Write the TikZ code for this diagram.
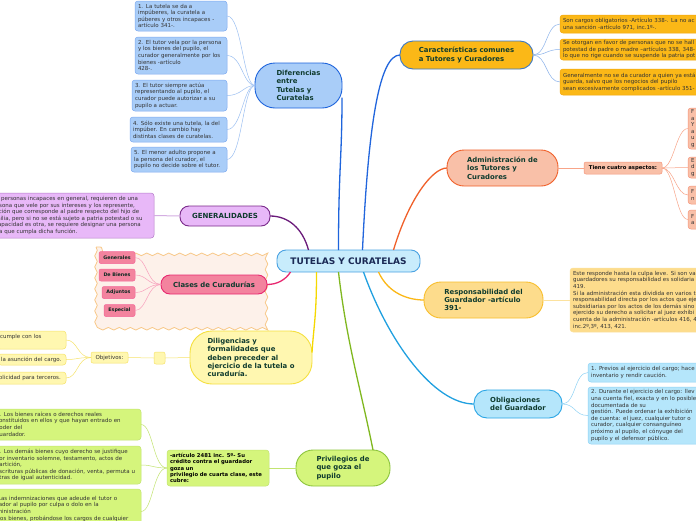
\documentclass[tikz,border=0pt]{standalone}
\usepackage{fontspec}
\setmainfont{DejaVu Sans}
\usetikzlibrary{decorations.pathmorphing}
% colores
\definecolor{centroFill}{HTML}{C8ECFC}
\definecolor{centroLine}{HTML}{4AA2E2}
\definecolor{centroText}{HTML}{1B2A55}
\definecolor{temaText}{HTML}{0F3B2E}
\definecolor{hojaText}{HTML}{333333}
\definecolor{difFill}{HTML}{A9CDF8}
\definecolor{difLine}{HTML}{1E64DC}
\definecolor{difHoja}{HTML}{7DAAF0}
\definecolor{difHilo}{HTML}{9CC0F2}
\definecolor{carFill}{HTML}{FBB817}
\definecolor{carLine}{HTML}{3A78C8}
\definecolor{carHoja}{HTML}{F2A60C}
\definecolor{carHilo}{HTML}{8AB2EA}
\definecolor{carRama}{HTML}{2266DD}
\definecolor{admFill}{HTML}{F9C0A8}
\definecolor{admLine}{HTML}{F0602A}
\definecolor{admHoja}{HTML}{F5947A}
\definecolor{admHilo}{HTML}{F8A488}
\definecolor{resFill}{HTML}{FDDC8C}
\definecolor{resLine}{HTML}{F8BE2C}
\definecolor{resHoja}{HTML}{FCE29E}
\definecolor{resRama}{HTML}{FBB817}
\definecolor{oblFill}{HTML}{B5E6FB}
\definecolor{oblLine}{HTML}{2AA5E5}
\definecolor{oblHoja}{HTML}{8ED2F5}
\definecolor{oblRama}{HTML}{20A0E0}
\definecolor{priFill}{HTML}{D5F57C}
\definecolor{priLine}{HTML}{8CC43C}
\definecolor{priHoja}{HTML}{C2E470}
\definecolor{priRama}{HTML}{80B820}
\definecolor{dilFill}{HTML}{FFF7B0}
\definecolor{dilLine}{HTML}{F5E040}
\definecolor{dilHoja}{HTML}{F6E36A}
\definecolor{dilRama}{HTML}{F5D800}
\definecolor{claFill}{HTML}{F3839E}
\definecolor{claLine}{HTML}{E82870}
\definecolor{claHoja}{HTML}{F46698}
\definecolor{claHilo}{HTML}{F8A0BC}
\definecolor{nubeFill}{HTML}{FDF1EA}
\definecolor{nubeLine}{HTML}{F8C888}
\definecolor{genFill}{HTML}{E8B8F8}
\definecolor{genLine}{HTML}{7A2A8A}
\definecolor{genHoja}{HTML}{B47AC8}
\definecolor{genHilo}{HTML}{D4AEE2}
\definecolor{genRama}{HTML}{6A1A7A}
\begin{document}
\begin{tikzpicture}[x=1pt,y=-1pt,
    every node/.style={inner sep=0pt,outer sep=0pt},
    tema/.style={draw,line width=0.9pt,align=left,text=temaText,
                 font=\fontsize{6.9}{8.3}\selectfont\bfseries},
    hoja/.style={draw,line width=0.5pt,rounded corners=3pt,align=left,
                 text=hojaText,font=\fontsize{5.5}{6.6}\selectfont,
                 anchor=north west,inner xsep=3pt},
    corte/.style={hoja,anchor=north east},
    rama/.style={line width=1.3pt},
    hilo/.style={line width=0.5pt}]
\useasboundingbox (0,0) rectangle (696,520);
\clip (0,0) rectangle (696,520);
\fill[white] (0,0) rectangle (696,520);
% nube de las curadurias
\draw[fill=nubeFill,draw=nubeLine,line width=0.8pt,decorate,
      decoration={snake,amplitude=1.3pt,segment length=11pt}] (96,247) rectangle (271,322);
% centro
\node[tema,fill=centroFill,draw=centroLine,rounded corners=9pt,minimum width=143pt,
      minimum height=22pt,text=centroText,font=\fontsize{9}{10}\selectfont\bfseries] (tc) at (348.5,261) {TUTELAS Y CURATELAS};
% Diferencias
\node[tema,fill=difFill,draw=difLine,rounded corners=20pt,minimum width=87pt,minimum height=45pt] (dif) at (298.5,85.5)
  {Diferencias\\entre\\Tutelas y\\Curatelas};
\node[hoja,fill=difFill,draw=difHoja,text width=86pt,minimum height=30pt] (d1) at (135,1)
  {1. La tutela se da a\\impúberes, la curatela a\\púberes y otros incapaces -\\artículo 341-.};
\node[hoja,fill=difFill,draw=difHoja,text width=86pt,minimum height=37pt] (d2) at (135,37)
  {2. El tutor vela por la persona\\y los bienes del pupilo, el\\curador generalmente por los\\bienes -artículo\\428-.};
\node[hoja,fill=difFill,draw=difHoja,text width=89pt,minimum height=31pt] (d3) at (132,80)
  {3. El tutor siempre actúa\\representando al pupilo, el\\curador puede autorizar a su\\pupilo a actuar.};
\node[hoja,fill=difFill,draw=difHoja,text width=91pt,minimum height=25pt] (d4) at (130,117)
  {4. Sólo existe una tutela, la del\\impúber. En cambio hay\\distintas clases de curatelas.};
\node[hoja,fill=difFill,draw=difHoja,text width=90pt,minimum height=25pt] (d5) at (131,147)
  {5. El menor adulto propone a\\la persona del curador, el\\pupilo no decide sobre el tutor.};
% Caracteristicas comunes
\node[tema,fill=carFill,draw=carLine,rounded corners=13pt,minimum width=133pt,minimum height=28pt] (carac) at (466.5,55)
  {Características comunes\\a Tutores y Curadores};
\node[hoja,fill=carFill,draw=carHoja,text width=300pt,minimum height=18pt] (c1) at (560,15)
  {Son cargos obligatorios -Artículo 338-. La no ac\\una sanción -artículo 971, inc.1º-.};
\node[hoja,fill=carFill,draw=carHoja,text width=300pt,minimum height=21pt] (c2) at (560,39)
  {Se otorgan en favor de personas que no se hall\\potestad de padre o madre –artículos 338, 348-\\lo que no rige cuando se suspende la patria pot};
\node[hoja,fill=carFill,draw=carHoja,text width=300pt,minimum height=26pt] (c3) at (560,69)
  {Generalmente no se da curador a quien ya está\\guarda, salvo que los negocios del pupilo\\sean excesivamente complicados -artículo 351-};
% Administracion
\node[tema,fill=admFill,draw=admLine,rounded corners=17pt,minimum width=111pt,minimum height=36pt] (admin) at (502.5,168)
  {Administración de\\los Tutores y\\Curadores};
\node[hoja,anchor=center,fill=admFill,draw=admHoja,rounded corners=2pt,minimum width=78pt,minimum height=12pt,
      text=black,font=\fontsize{5.3}{6}\selectfont\bfseries] (tiene) at (623,168) {Tiene cuatro aspectos:};
\node[hoja,fill=admFill,draw=admHoja,text width=60pt,minimum height=41pt] (a1) at (688,108) {F\\a\\Y\\a\\u\\g};
\node[hoja,fill=admFill,draw=admHoja,text width=60pt,minimum height=21pt] (a2) at (688,157) {E\\d\\g};
\node[hoja,fill=admFill,draw=admHoja,text width=60pt,minimum height=18pt] (a3) at (688,186) {F\\n};
\node[hoja,fill=admFill,draw=admHoja,text width=60pt,minimum height=19pt] (a4) at (688,210) {F\\a};
% Responsabilidad
\node[tema,fill=resFill,draw=resLine,rounded corners=17pt,minimum width=119pt,minimum height=36pt] (resp) at (483.5,300)
  {Responsabilidad del\\Guardador -artículo\\391-};
\node[hoja,fill=resFill,draw=resHoja,text width=300pt,minimum height=64pt] (r1) at (570,268)
  {Este responde hasta la culpa leve. Si son va\\guardadores su responsabilidad es solidaria\\419.\\Si la administración esta dividida en varios t\\responsabilidad directa por los actos que eje\\subsidiarias por los actos de los demás sino\\ejercido su derecho a solicitar al juez exhibi\\cuenta de la administración -artículos 416, 4\\inc.2º,3º, 413, 421.};
% Obligaciones
\node[tema,fill=oblFill,draw=oblLine,rounded corners=13pt,minimum width=88pt,minimum height=28pt] (oblig) at (518,404)
  {Obligaciones\\del Guardador};
\node[hoja,fill=oblFill,draw=oblHoja,text width=300pt,minimum height=19pt] (o1) at (588,363)
  {1. Previos al ejercicio del cargo; hace\\inventario y rendir caución.};
\node[hoja,fill=oblFill,draw=oblHoja,text width=300pt,minimum height=57pt] (o2) at (588,387)
  {2. Durante el ejercicio del cargo: llev\\una cuenta fiel, exacta y en lo posible\\documentada de su\\gestión. Puede ordenar la exhibición\\de cuenta: el juez, cualquier tutor o\\curador, cualquier consanguíneo\\próximo al pupilo, el cónyuge del\\pupilo y el defensor público.};
% Privilegios
\node[tema,fill=priFill,draw=priLine,rounded corners=17pt,minimum width=94pt,minimum height=36pt] (priv) at (343,468)
  {Privilegios de\\que goza el\\pupilo};
\node[hoja,anchor=center,fill=priFill,draw=priHoja,text width=96pt,minimum height=36pt,text=black,
      font=\fontsize{5.3}{6.3}\selectfont\bfseries] (pc) at (218,468)
  {-artículo 2481 inc. 5º- Su\\crédito contra el guardador\\goza un\\privilegio de cuarta clase, este\\cubre:};
\node[corte,fill=priFill,draw=priHoja,text width=142pt,minimum height=31pt] (g1) at (141,409)
  {1. Los bienes raíces o derechos reales\\constituidos en ellos y que hayan entrado en\\poder del\\guardador.};
\node[corte,fill=priFill,draw=priHoja,text width=142pt,minimum height=38pt] (g2) at (141,446)
  {2. Los demás bienes cuyo derecho se justifique\\por inventario solemne, testamento, actos de\\partición,\\escrituras públicas de donación, venta, permuta u\\otras de igual autenticidad.};
\node[corte,fill=priFill,draw=priHoja,text width=148pt,minimum height=45pt] (g3) at (141,489)
  {3. Las indemnizaciones que adeude el tutor o\\curador al pupilo por culpa o dolo en la\\administración\\de los bienes, probándose los cargos de cualquier\\\mbox{}};
% Diligencias
\node[tema,fill=dilFill,draw=dilLine,rounded corners=22pt,minimum width=122pt,minimum height=53pt] (dilig) at (251,357.5)
  {Diligencias y\\formalidades que\\deben preceder al\\ejercicio de la tutela o\\curaduría.};
\node[hoja,anchor=center,fill=dilFill,draw=dilHoja,rounded corners=2pt,minimum width=11pt,minimum height=12pt] (sq) at (159.5,358) {};
\node[hoja,anchor=center,fill=dilFill,draw=dilHoja,rounded corners=2pt,minimum width=37pt,minimum height=11pt] (obj) at (109.5,357.5) {Objetivos:};
\node[corte,fill=dilFill,draw=dilHoja,text width=63pt,minimum height=18pt] (ob1) at (66,331) {cumple con los\\\mbox{}};
\node[corte,fill=dilFill,draw=dilHoja,text width=62pt,minimum height=11pt] (ob2) at (66,354) {la asunción del cargo.};
\node[corte,fill=dilFill,draw=dilHoja,text width=71pt,minimum height=12pt] (ob3) at (66,372) {publicidad para terceros.};
% Clases de Curadurias
\node[tema,fill=claFill,draw=claLine,rounded corners=9pt,minimum width=106pt,minimum height=19pt,align=center,
      font=\fontsize{6.9}{7.5}\selectfont\bfseries] (clases) at (214,284.5) {Clases de Curadurías};
\foreach \n/\t/\x/\y/\w in {cl1/Generales/117/257.5/36, cl2/De Bienes/117/275/36,
                           cl3/Adjuntos/118.5/292.5/33, cl4/Especial/119.5/310.5/31}
  \node[hoja,anchor=center,fill=claFill,draw=claHoja,rounded corners=2pt,minimum width=\w pt,minimum height=12pt,
        text=temaText!70!black,font=\fontsize{4.8}{5}\selectfont\bfseries] (\n) at (\x,\y) {\t};
% Generalidades
\node[tema,fill=genFill,draw=genLine,rounded corners=9pt,minimum width=90pt,minimum height=20pt,
      font=\fontsize{7}{8}\selectfont\bfseries] (gen) at (225,216) {GENERALIDADES};
\node[corte,fill=genFill,draw=genHoja,text width=161pt,minimum height=45pt] (gc) at (154,193)
  {Las personas incapaces en general, requieren de una\\persona que vele por sus intereses y los represente,\\función que corresponde al padre respecto del hijo de\\familia, pero si no se está sujeto a patria potestad o su\\incapacidad es otra, se requiere designar una persona\\para que cumpla dicha función.};
% ramas principales
\draw[rama,draw=genRama] ([xshift=-40pt]tc.north) .. controls +(-6,-22) and +(18,0) .. (gen.east);
\draw[rama,draw=difLine] ([xshift=-10pt]tc.north) .. controls +(0,-80) and +(0,60) .. ([yshift=-12pt]dif.east);
\draw[rama,draw=carRama] ([xshift=14pt]tc.north) .. controls +(6,-130) and +(-20,0) .. (carac.west);
\draw[rama,draw=admLine] ([xshift=45pt]tc.north) .. controls +(15,-50) and +(-15,0) .. (admin.west);
\draw[rama,draw=resRama] ([xshift=30pt]tc.south) .. controls +(10,22) and +(-15,0) .. (resp.west);
\draw[rama,draw=oblRama] ([xshift=15pt]tc.south) .. controls +(25,70) and +(-40,0) .. (oblig.west);
\draw[rama,draw=priRama] ([xshift=-10pt]tc.south) .. controls +(8,70) and +(-12,-60) .. ([xshift=30pt]priv.north);
\draw[rama,draw=dilRama] ([xshift=-32pt]tc.south) .. controls +(0,45) and +(2,-30) .. ([yshift=5pt]dilig.east);
\draw[rama,draw=claLine] ([xshift=-58pt]tc.south) .. controls +(-5,8) and +(10,0) .. (clases.east);
% hilos
\foreach \h in {d1,d2,d3,d4,d5}
  \draw[hilo,draw=difHilo] (\h.east) .. controls +(15,0) and +(-12,0) .. (dif.west);
\foreach \h in {c1,c2,c3}
  \draw[hilo,draw=carHilo] (carac.east) .. controls +(14,0) and +(-14,0) .. (\h.west);
\draw[hilo,draw=admHilo] (admin.east) -- (tiene.west);
\foreach \h in {a1,a2,a3,a4}
  \draw[hilo,draw=admHilo] (tiene.east) .. controls +(12,0) and +(-12,0) .. (\h.west);
\draw[hilo,draw=resHoja,line width=1pt] (resp.east) -- (r1.west);
\foreach \h in {o1,o2}
  \draw[hilo,draw=oblHoja] (oblig.east) .. controls +(14,0) and +(-14,0) .. (\h.west);
\draw[hilo,draw=priHoja] (priv.west) -- (pc.east);
\foreach \h in {g1,g2,g3}
  \draw[hilo,draw=priHoja] (pc.west) .. controls +(-14,0) and +(12,0) .. (\h.east);
\draw[hilo,draw=dilHoja] (dilig.west) -- (sq.east);
\draw[hilo,draw=dilHoja] (sq.west) -- (obj.east);
\foreach \h in {ob1,ob2,ob3}
  \draw[hilo,draw=dilHoja] (obj.west) .. controls +(-14,0) and +(12,0) .. (\h.east);
\foreach \h in {cl1,cl2,cl3,cl4}
  \draw[hilo,draw=claHilo] (clases.west) .. controls +(-14,0) and +(12,0) .. (\h.east);
\draw[hilo,draw=genHilo,line width=1pt] (gen.west) -- (gc.east);
\end{tikzpicture}
\end{document}
